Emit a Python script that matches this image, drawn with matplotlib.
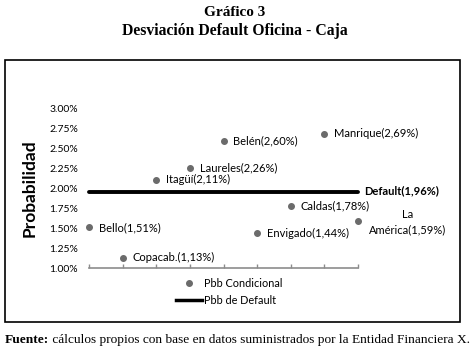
import matplotlib
matplotlib.use("Agg")
import matplotlib.pyplot as plt
from matplotlib.patches import Rectangle
from matplotlib.lines import Line2D

oficinas = ["Bello", "Copacab.", "Itagüí", "Laureles", "Belén", "Envigado", "Caldas", "Manrique", "La\nAmérica"]
pbb_condicional = [1.51, 1.13, 2.11, 2.26, 2.60, 1.44, 1.78, 2.69, 1.59]
pbb_default = 1.96
yticks = [1.00, 1.25, 1.50, 1.75, 2.00, 2.25, 2.50, 2.75, 3.00]

W, H = 470, 350
fig = plt.figure(figsize=(W / 100, H / 100), dpi=100)
fig.patch.set_facecolor("white")

sans = "Lato"
serif = "Liberation Serif"

# Titles
fig.text(0.5, 1 - 12 / H, "Gráfico 3", ha="center", va="center", fontsize=11,
         fontweight="bold", family=serif)
fig.text(0.5, 1 - 31 / H, "Desviación Default Oficina - Caja", ha="center", va="center",
         fontsize=11.3, fontweight="bold", family=serif)

# Frame box
fig.patches.append(Rectangle((5 / W, 1 - 322 / H), 455 / W, 262 / H, transform=fig.transFigure,
                             fill=False, edgecolor="black", linewidth=1.2))

left, right = 89, 358
top, bottom = 109, 268
ax = fig.add_axes([left / W, 1 - bottom / H, (right - left) / W, (bottom - top) / H])
x = list(range(1, len(oficinas) + 1))
ax.set_xlim(1, len(oficinas))
ax.set_ylim(1.0, 3.0)

for s in ["top", "right", "left"]:
    ax.spines[s].set_visible(False)
ax.spines["bottom"].set_color("#8c8c8c")
ax.spines["bottom"].set_linewidth(1.2)
ax.set_xticks(x)
ax.set_xticklabels([])
ax.tick_params(axis="x", direction="in", length=3, color="#8c8c8c", width=1)
ax.set_yticks(yticks)
ax.set_yticklabels([f"{v:.2f}%" for v in yticks], family=sans, fontsize=7.5)
ax.tick_params(axis="y", length=0, pad=8)

ax.set_ylabel("Probabilidad", family=sans, fontsize=12.5, fontweight="bold", labelpad=8)

ax.plot([x[0], x[-1]], [pbb_default, pbb_default], color="black", linewidth=2.8,
        solid_capstyle="round", clip_on=False, zorder=2)
ax.scatter(x, pbb_condicional, s=16, color="#6b6b6b", zorder=3, clip_on=False)

for xi, name, v in zip(x, oficinas, pbb_condicional):
    lab = f"{name}({f'{v:.2f}'.replace('.', ',')}%)"
    if "\n" in name:
        ax.annotate(lab, (xi, v), xytext=(50, -1), textcoords="offset pixels", ha="center",
                    va="center", fontsize=8, family=sans, multialignment="center",
                    annotation_clip=False, linespacing=1.5)
    else:
        ax.annotate(lab, (xi, v), xytext=(10, 0), textcoords="offset pixels", ha="left",
                    va="center", fontsize=8, family=sans, annotation_clip=False)

ax.annotate(f"Default({f'{pbb_default:.2f}'.replace('.', ',')}%)", (x[-1], pbb_default),
            xytext=(6, 1), textcoords="offset pixels", ha="left", va="center", fontsize=8,
            fontweight="bold", family=sans, annotation_clip=False)

# Legend
h1 = Line2D([], [], linestyle="none", marker="o", markersize=4, color="#6b6b6b")
h2 = Line2D([], [], color="black", linewidth=2.5)
leg = fig.legend([h1, h2], ["Pbb Condicional", "Pbb de Default"], loc="upper left",
                 bbox_to_anchor=(176 / W, 1 - 278 / H), frameon=False,
                 prop={"family": sans, "size": 7.8}, handlelength=2.4, handletextpad=0.2,
                 borderpad=0, borderaxespad=0, labelspacing=0.55)

# Footer
t1 = fig.text(5 / W, 1 - 343 / H, "Fuente:", ha="left", va="baseline", fontsize=9.6,
              fontweight="bold", family=serif)
ax.annotate(" cálculos propios con base en datos suministrados por la Entidad Financiera X.",
            xy=(1, 0), xycoords=t1, ha="left", va="bottom", fontsize=9.6, family=serif,
            annotation_clip=False)

fig.savefig("out.png", dpi=100)
